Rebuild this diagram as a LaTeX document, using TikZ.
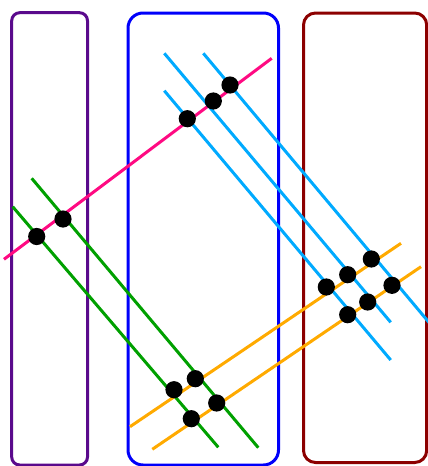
\documentclass[tikz,border=0pt]{standalone}
\usepackage{tikz}
\definecolor{ColPurple}{RGB}{90, 10, 140}
\definecolor{ColBlue}{RGB}{0, 0, 250}
\definecolor{ColRed}{RGB}{140, 0, 0}
\definecolor{LnPink}{RGB}{255, 10, 130}
\definecolor{LnGreen}{RGB}{0, 160, 0}
\definecolor{LnCyan}{RGB}{0, 170, 255}
\definecolor{LnOrange}{RGB}{255, 170, 0}
\tikzset{
  band/.style={line width=1.5pt},
  wire/.style={line width=1.5pt},
  dot/.style={circle, fill=black, minimum size=8.6pt, inner sep=0pt},
}

\begin{document}
\begin{tikzpicture}[x=0.5pt, y=-0.5pt]
    \useasboundingbox (0,0) rectangle (428,466);
    % columns
    \draw[band, ColPurple, rounded corners=4pt] (11.7,12.7) rectangle (87.5,465);
    \draw[band, ColBlue, rounded corners=7.5pt] (128,13) rectangle (278.5,465);
    \draw[band, ColRed, rounded corners=6pt] (303.5,13) rectangle (426.7,462.5);
    % end points of the lines
    \coordinate (m1) at (4,259.3);     \coordinate (m2) at (271.7,58.3);
    \coordinate (g1a) at (12.7,206.7); \coordinate (g1b) at (218.3,447.3);
    \coordinate (g2a) at (31.7,178.3); \coordinate (g2b) at (258.3,447.7);
    \coordinate (cAa) at (164.3,53.3); \coordinate (cAb) at (390.7,322.3);
    \coordinate (cBa) at (203.3,53.3); \coordinate (cBb) at (432,326);
    \coordinate (cCa) at (164.3,90.7); \coordinate (cCb) at (390.7,360);
    \coordinate (o1a) at (130,426.7);  \coordinate (o1b) at (401,243.3);
    \coordinate (o2a) at (152.3,449.3); \coordinate (o2b) at (421,266.7);
    % lines
    \draw[wire, LnPink] (m1) -- (m2);
    \draw[wire, LnGreen] (g1a) -- (g1b);
    \draw[wire, LnGreen] (g2a) -- (g2b);
    \draw[wire, LnCyan] (cAa) -- (cAb);
    \draw[wire, LnCyan] (cBa) -- (cBb);
    \draw[wire, LnCyan] (cCa) -- (cCb);
    \draw[wire, LnOrange] (o1a) -- (o1b);
    \draw[wire, LnOrange] (o2a) -- (o2b);
    % crossings
    \node[dot] (mg1) at (36.7,236.5) {};
    \node[dot] (mg2) at (63,219) {};
    \node[dot] (mcC) at (187.3,118.7) {};
    \node[dot] (mcA) at (213.3,101) {};
    \node[dot] (mcB) at (230,85) {};
    \node[dot] (og11) at (174,389.7) {};
    \node[dot] (og12) at (195.3,378.7) {};
    \node[dot] (og21) at (191.3,418.7) {};
    \node[dot] (og22) at (216.7,403) {};
    \node[dot] (oc1C) at (326.3,287) {};
    \node[dot] (oc1A) at (347.7,274.7) {};
    \node[dot] (oc1B) at (371.3,259) {};
    \node[dot] (oc2C) at (347.7,314.7) {};
    \node[dot] (oc2A) at (367.7,302) {};
    \node[dot] (oc2B) at (392,285.3) {};
  \end{tikzpicture}
\end{document}
